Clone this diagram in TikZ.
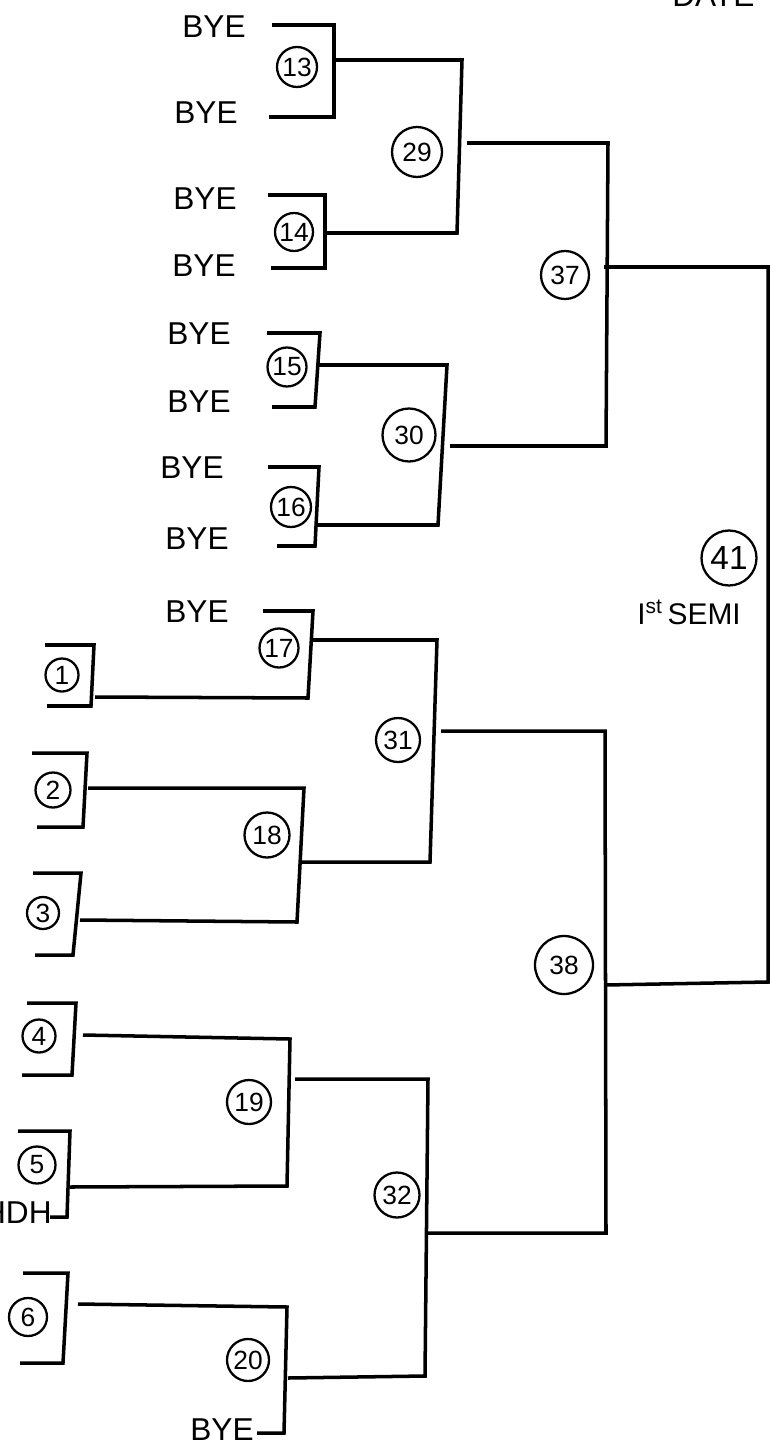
\documentclass[tikz,border=0pt]{standalone}
\usepackage{fontspec}
\setmainfont{Liberation Sans}
\usetikzlibrary{positioning}

\begin{document}
\begin{tikzpicture}[x=0.02cm, y=-0.02cm,
  bracketline/.style={line width=2pt, line join=miter},
  matchno/.style={draw, circle, line width=1.3pt, inner sep=0pt, font=\fontsize{15}{15}\selectfont},
  byetext/.style={inner sep=0pt, font=\fontsize{18}{18}\selectfont}]

  % Page frame
  \useasboundingbox[fill=white] (0,0) rectangle (770,1449);

  % Header, cut off at the top edge
  \node[anchor=base west, inner sep=0pt, font=\fontsize{18}{18}\selectfont] (date) at (672,7) {DATE};

  % BYE entries
  \foreach \i/\x/\y in {1/214/27, 2/206/113, 3/205/199, 4/204/266, 5/199/334,
                        6/199/402, 7/192/468, 8/197/539, 9/197/612, 10/222/1430}
    \node[byetext] (bye\i) at (\x,\y) {BYE};
  \node[byetext, anchor=east] (hdh) at (52,1213) {HDH};

  % Seed boxes
  \foreach \s/\xa/\ya/\xb/\yb/\xc/\yc/\xd/\yd in {
      1/45/645/94/645/91/706/47/706,
      2/32/753/87/753/83/827/37/827,
      3/33/873/81/873/73/955/35/955,
      4/27/1003/76/1003/72/1075/22/1075,
      5/18/1131/70/1131/67/1217/50/1217,
      6/23/1273/68/1273/63/1363/20/1363} {
    \coordinate (s\s a) at (\xa,\ya);
    \coordinate (s\s b) at (\xb,\yb);
    \coordinate (s\s c) at (\xc,\yc);
    \coordinate (s\s d) at (\xd,\yd);
    \draw[bracketline] (s\s a) -- (s\s b) -- (s\s c) -- (s\s d);
  }

  % Match brackets
  \foreach \m/\xa/\ya/\xb/\yb/\xc/\yc/\xd/\yd in {
      13/272/25/334/25/334/117/269/117,
      14/268/195/325/195/325/268/271/268,
      15/267/333/320/333/315/407/272/407,
      16/268/467/319/467/315/546/277/546,
      17/263/611/313/611/308/698/95/697,
      18/88/788/304/788/297/922/80/920,
      19/83/1035/290/1039/287/1186/70/1187,
      20/78/1304/287/1307/284/1433/257/1433,
      29/336/60/462/60/457/233/327/233,
      30/318/365/447/365/438/525/317/525,
      31/312/640/437/640/430/862/300/862,
      32/295/1079/428/1079/425/1376/288/1378,
      37/467/143/608/143/606/446/450/446,
      38/441/731/605/731/606/1233/428/1233,
      41/604/267/768/267/768/982/605/985} {
    \coordinate (m\m a) at (\xa,\ya);
    \coordinate (m\m b) at (\xb,\yb);
    \coordinate (m\m c) at (\xc,\yc);
    \coordinate (m\m d) at (\xd,\yd);
    \draw[bracketline] (m\m a) -- (m\m b) -- (m\m c) -- (m\m d);
  }

  % Circled numbers
  \foreach \n/\x/\y/\d in {1/62/675/33, 2/53/790/35, 3/43/913/32, 4/39/1036/33,
                           5/37/1165/37, 6/28/1317/38,
                           13/297/67/40, 14/294/232/38, 15/287/367/39, 16/291/507/40,
                           17/279/648/39, 18/267/835/45, 19/249/1102/44, 20/248/1360/42,
                           29/417/152/50, 30/409/435/53, 31/398/740/44, 32/397/1195/45,
                           37/565/275/48, 38/564/965/58}
    \node[matchno, minimum size=\d*0.02cm] (c\n) at (\x,\y) {\n};
  \node[matchno, minimum size=1.1cm, font=\fontsize{19}{19}\selectfont] (c41) at (729,558) {41};

  % Semi-final label
  \node[below=0.25cm of c41, xshift=-0.8cm, inner sep=0pt, font=\fontsize{17}{17}\selectfont] (semi)
    {I\textsuperscript{st}\,SEMI};
\end{tikzpicture}
\end{document}
